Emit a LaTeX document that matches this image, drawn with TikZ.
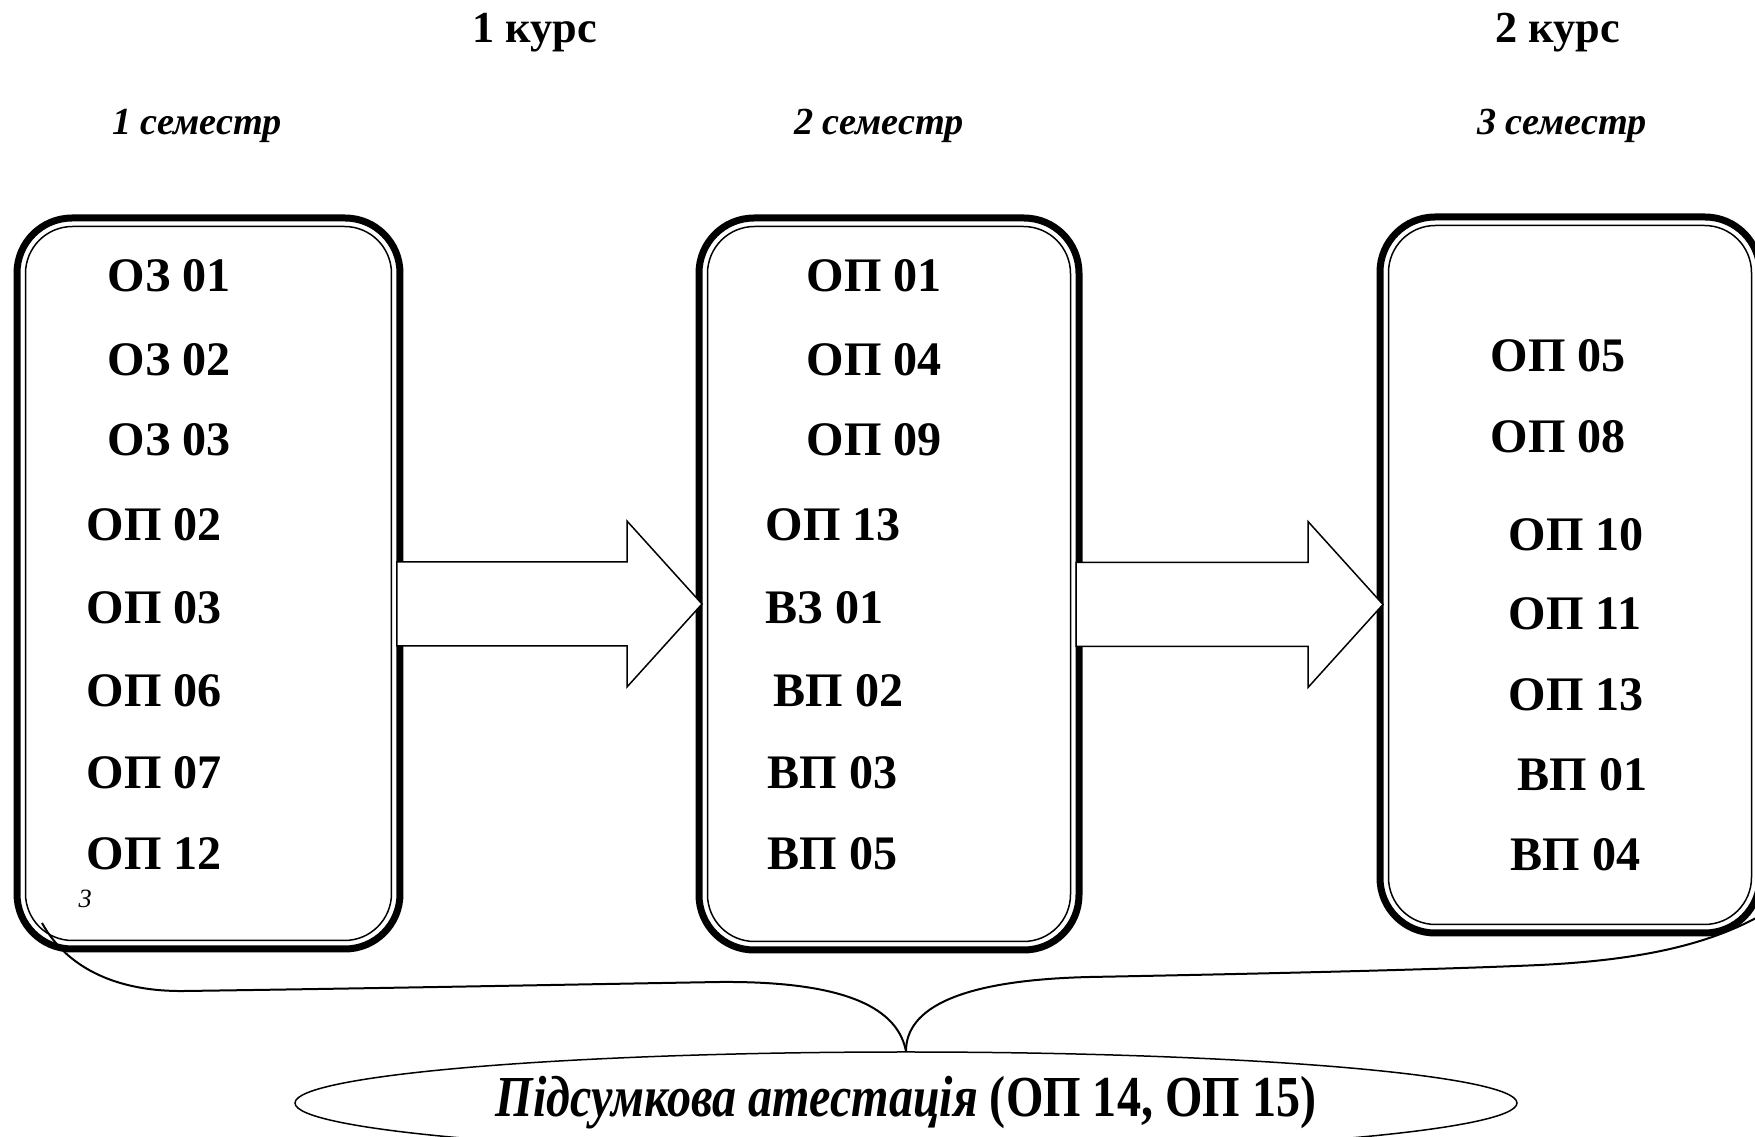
\documentclass[tikz,border=0pt]{standalone}
\usepackage{fontspec}
\setmainfont{Liberation Serif}
\usetikzlibrary{calc}
\usetikzlibrary{shapes.geometric}
\newcommand*{\subjfont}{\fontsize{13.7}{16}\selectfont\bfseries}
\newcommand*{\headfont}{\fontsize{12.6}{15}\selectfont\bfseries}
\newcommand*{\termfont}{\fontsize{10.9}{13}\selectfont\bfseries\itshape}
\newcommand*{\examfont}{\fontsize{16.5}{19}\selectfont\bfseries}
\newcommand*{\stagearrow}[2]{%
    \coordinate (#1o) at ($(#1.east)+(0,20.5)$);
    \coordinate (#1t) at ($(#1o -| #2.west)+(3,0)$);
    \draw [flowarrow] ($(#1o)+(-3,-42)$) -- ($(#1t)+(-75,-42)$) -- ($(#1t)+(-75,-83)$) -- (#1t)
        -- ($(#1t)+(-75,83)$) -- ($(#1t)+(-75,42)$) -- ($(#1o)+(-3,42)$) -- cycle;
}
\tikzset{
    semester/.style={draw, rectangle, rounded corners=5.5mm, line width=0.7mm, outer sep=0pt, inner sep=0pt},
    innerframe/.style={line width=0.15mm, rounded corners=4.7mm},
    subject/.style={anchor=base west, inner sep=0pt, font=\subjfont},
    heading/.style={anchor=base, inner sep=0pt, font=\headfont},
    term/.style={anchor=base, inner sep=0pt, font=\termfont},
    flowarrow/.style={fill=white, line width=0.15mm, line join=miter},
    brace/.style={line width=0.2mm},
    exam/.style={draw, ellipse, line width=0.15mm, inner sep=0pt, font=\examfont},
}

\begin{document}
\begin{tikzpicture}[x=0.1mm, y=-0.1mm]
    \useasboundingbox (0,0) rectangle (1755,1137);
    % courses and semesters
    \node [heading] (course1) at ( 535,43) {1 курс};
    \node [heading] (course2) at (1558,43) {2 курс};
    \node [term] (term1) at ( 197,135) {1 семестр};
    \node [term] (term2) at ( 879,135) {2 семестр};
    \node [term] (term3) at (1562,135) {3 семестр};
    % frames
    \node [semester, minimum width=38.3mm, minimum height=73.1mm] (sem1) at ( 208.5,583.5) {};
    \node [semester, minimum width=38.0mm, minimum height=73.2mm] (sem2) at ( 889,584) {};
    \node [semester, minimum width=38.0mm, minimum height=71.6mm] (sem3) at (1570,575) {};
    \foreach \s in {sem1,sem2,sem3}
        \draw [innerframe] ([shift={(8.5,8.5)}]\s.north west) rectangle ([shift={(-8.5,-8.5)}]\s.south east);
    % subjects
    \foreach \x/\y/\t [count=\i] in {107/292/ОЗ 01, 107/376/ОЗ 02, 107/456/ОЗ 03, 86/541/ОП 02,
                                     86/624/ОП 03, 86/707/ОП 06, 86/789/ОП 07, 86/870/ОП 12}
        \node [subject] (a\i) at (\x,\y) {\t};
    \foreach \x/\y/\t [count=\i] in {806/292/ОП 01, 806/376/ОП 04, 806/456/ОП 09, 765/541/ОП 13,
                                     765/624/ВЗ 01, 773/707/ВП 02, 767/789/ВП 03, 767/870/ВП 05}
        \node [subject] (b\i) at (\x,\y) {\t};
    \foreach \x/\y/\t [count=\i] in {1490/372/ОП 05, 1490/453/ОП 08, 1508/551/ОП 10, 1508/630/ОП 11,
                                     1508/711/ОП 13, 1517/791/ВП 01, 1510/871/ВП 04}
        \node [subject] (c\i) at (\x,\y) {\t};
    \node [anchor=base west, inner sep=0pt, font=\fontsize{7.5}{9}\selectfont\itshape] (note3) at (78,908) {3};
    % arrows
    \stagearrow{sem1}{sem2}
    \stagearrow{sem2}{sem3}
    % final attestation
    \node [exam, minimum width=122.2mm, minimum height=10.2mm] (exam) at (906,1103)
        {\scalebox{0.83}[1]{\textit{Підсумкова атестація} (ОП 14, ОП 15)}};
    \draw [brace] ($(sem1.south west)+(25,-26)$) .. controls (68,970) and (120,992) .. (185,991)
        .. controls (400,988) and (600,984) .. (720,982)
        .. controls (850,981) and (898,1010) .. (exam.north);
    \draw [brace] (exam.north) .. controls (906,1008) and (960,980) .. (1090,977)
        .. controls (1300,973) and (1450,969) .. (1540,965)
        .. controls (1640,960) and (1710,945) .. ($(sem3.south east)+(5,-20)$);
\end{tikzpicture}
\end{document}
